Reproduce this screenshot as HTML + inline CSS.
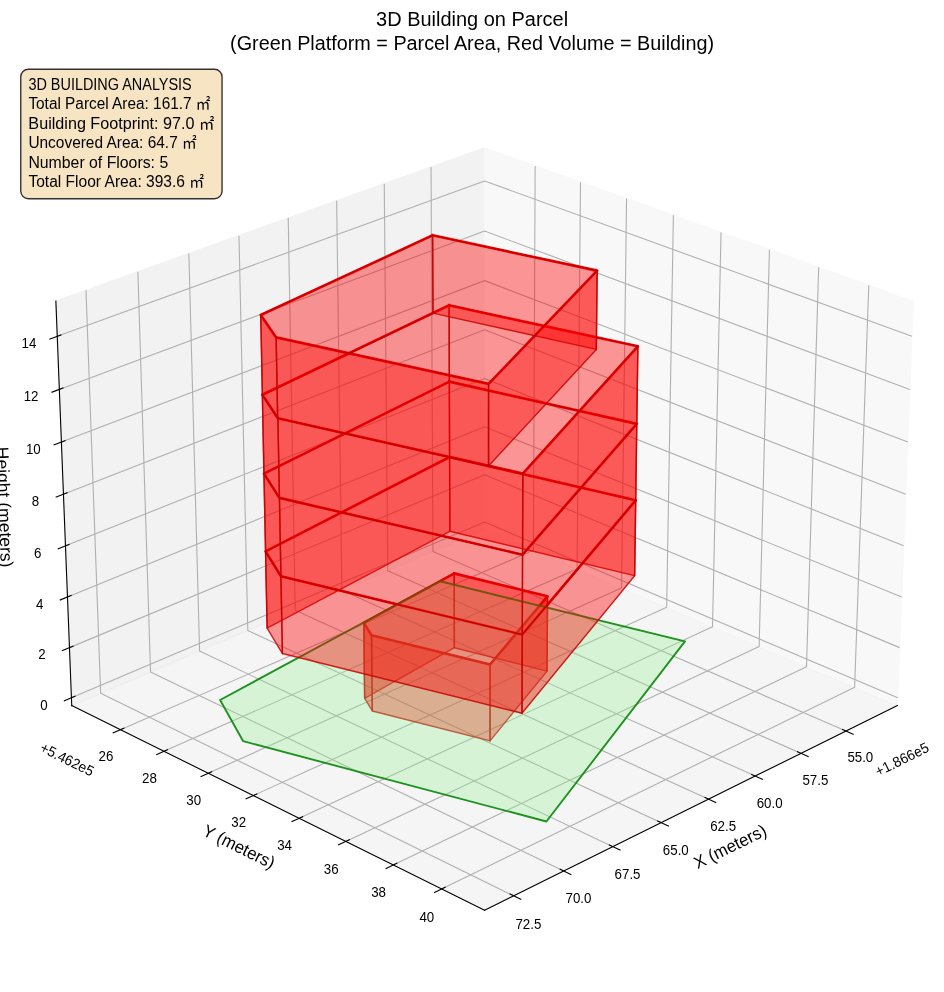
<!DOCTYPE html>
<html lang="en">
<head>
<meta charset="utf-8">
<title>3D Building on Parcel</title>
<style>
html, body { margin: 0; padding: 0; background: #ffffff; }
body { width: 944px; height: 992px; overflow: hidden; font-family: "Liberation Sans", "Noto Sans CJK JP", sans-serif; }
svg { display: block; }
svg text { fill: #000000; }
svg * { stroke-linejoin: round; stroke-linecap: butt; }
</style>
</head>
<body>
<svg width="944" height="992" viewBox="0 0 944 992">
<g transform="scale(1.388889)">
<g id="figure_1">
<g id="patch_1">
<path d="M 0 714.24  L 679.68 714.24  L 679.68 0  L 0 0  z " style="fill: #ffffff"/>
</g>
<g id="patch_2">
<path d="M 7.1208 706.9392  L 672.6888 706.9392  L 672.6888 41.3712  L 7.1208 41.3712  z " style="fill: #ffffff"/>
</g>
<g id="pane3d_1">
<g id="patch_3">
<path d="M 348.898962 381.206675  L 646.14014 508.027717  L 657.571852 216.799794  L 348.898962 106.465065  " style="fill: #f2f2f2; opacity: 0.5; stroke: #f2f2f2; stroke-linejoin: miter"/>
</g>
</g>
<g id="pane3d_2">
<g id="patch_4">
<path d="M 348.898962 381.206675  L 51.657784 508.027717  L 40.226072 216.799794  L 348.898962 106.465065  " style="fill: #e6e6e6; opacity: 0.5; stroke: #e6e6e6; stroke-linejoin: miter"/>
</g>
</g>
<g id="pane3d_3">
<g id="patch_5">
<path d="M 348.898962 381.206675  L 51.657784 508.027717  L 348.898962 655.378671  L 646.14014 508.027717  " style="fill: #ececec; opacity: 0.5; stroke: #ececec; stroke-linejoin: miter"/>
</g>
</g>
<g id="grid3d_1">
<g id="Line3DCollection_1">
<path d="M 609.13157 526.373924  L 311.707826 397.074661  L 310.367794 120.237982  " style="fill: none; stroke: #b0b0b0; stroke-width: 0.8"/>
<path d="M 576.736384 542.433145  L 279.195636 410.946325  L 276.66304 132.285703  " style="fill: none; stroke: #b0b0b0; stroke-width: 0.8"/>
<path d="M 543.770373 558.775339  L 246.151502 425.044948  L 242.386624 144.537764  " style="fill: none; stroke: #b0b0b0; stroke-width: 0.8"/>
<path d="M 510.218316 575.408053  L 212.562262 439.376147  L 207.523877 156.999408  " style="fill: none; stroke: #b0b0b0; stroke-width: 0.8"/>
<path d="M 476.064446 592.339103  L 178.414315 453.945724  L 172.059625 169.676059  " style="fill: none; stroke: #b0b0b0; stroke-width: 0.8"/>
<path d="M 441.292424 609.576589  L 143.693604 468.759677  L 135.978166 182.573331  " style="fill: none; stroke: #b0b0b0; stroke-width: 0.8"/>
<path d="M 405.885315 627.128906  L 108.385596 483.824206  L 99.263245 195.697032  " style="fill: none; stroke: #b0b0b0; stroke-width: 0.8"/>
<path d="M 369.825559 645.004758  L 72.475264 499.145723  L 61.898032 209.05318  " style="fill: none; stroke: #b0b0b0; stroke-width: 0.8"/>
</g>
</g>
<g id="grid3d_2">
<g id="Line3DCollection_2">
<path d="M 385.308312 119.47954  L 384.04272 396.201125  L 86.627674 525.363292  " style="fill: none; stroke: #b0b0b0; stroke-width: 0.8"/>
<path d="M 417.945004 131.145484  L 415.526089 409.633832  L 117.994708 540.912828  " style="fill: none; stroke: #b0b0b0; stroke-width: 0.8"/>
<path d="M 451.117845 143.003074  L 447.508398 423.279417  L 149.897055 556.727734  " style="fill: none; stroke: #b0b0b0; stroke-width: 0.8"/>
<path d="M 484.840154 155.05707  L 480.0016 437.14298  L 182.348537 572.814862  " style="fill: none; stroke: #b0b0b0; stroke-width: 0.8"/>
<path d="M 519.125699 167.312394  L 513.018037 451.229786  L 215.363454 589.181301  " style="fill: none; stroke: #b0b0b0; stroke-width: 0.8"/>
<path d="M 553.988708 179.774132  L 546.570449 465.545272  L 248.956611 605.834389  " style="fill: none; stroke: #b0b0b0; stroke-width: 0.8"/>
<path d="M 589.443895 192.447543  L 580.671993 480.095051  L 283.14333 622.781724  " style="fill: none; stroke: #b0b0b0; stroke-width: 0.8"/>
<path d="M 625.506477 205.338067  L 615.336264 494.884923  L 317.939486 640.031173  " style="fill: none; stroke: #b0b0b0; stroke-width: 0.8"/>
</g>
</g>
<g id="grid3d_3">
<g id="Line3DCollection_3">
<path d="M 51.437454 502.414714  L 348.898962 375.897509  L 646.36047 502.414714  " style="fill: none; stroke: #b0b0b0; stroke-width: 0.8"/>
<path d="M 50.019571 466.293506  L 348.898962 341.74469  L 647.778354 466.293506  " style="fill: none; stroke: #b0b0b0; stroke-width: 0.8"/>
<path d="M 48.588105 429.826297  L 348.898962 307.287733  L 649.209819 429.826297  " style="fill: none; stroke: #b0b0b0; stroke-width: 0.8"/>
<path d="M 47.142862 393.008092  L 348.898962 272.522559  L 650.655062 393.008092  " style="fill: none; stroke: #b0b0b0; stroke-width: 0.8"/>
<path d="M 45.683642 355.833799  L 348.898962 237.445013  L 652.114283 355.833799  " style="fill: none; stroke: #b0b0b0; stroke-width: 0.8"/>
<path d="M 44.210239 318.298227  L 348.898962 202.050866  L 653.587685 318.298227  " style="fill: none; stroke: #b0b0b0; stroke-width: 0.8"/>
<path d="M 42.722448 280.396083  L 348.898962 166.335812  L 655.075476 280.396083  " style="fill: none; stroke: #b0b0b0; stroke-width: 0.8"/>
<path d="M 41.220056 242.121972  L 348.898962 130.295467  L 656.577869 242.121972  " style="fill: none; stroke: #b0b0b0; stroke-width: 0.8"/>
</g>
</g>
<g id="axis3d_1">
<g id="line2d_1">
<path d="M 646.14014 508.027717  L 348.898962 655.378671  " style="fill: none; stroke: #000000; stroke-width: 0.8; stroke-linecap: square"/>
</g>
<g id="xtick_1">
<g id="line2d_2">
<path d="M 606.573764 525.261967  L 614.256479 528.60188  " style="fill: none; stroke: #000000; stroke-width: 0.8; stroke-linecap: square"/>
</g>
<g id="text_1">
<text style="font-size: 10.500px; font-family: 'Liberation Sans', 'Noto Sans CJK JP', sans-serif; text-anchor: middle" x="619.434899" y="548.840" textLength="18.65" lengthAdjust="spacingAndGlyphs">55.0</text>
</g>
</g>
<g id="xtick_2">
<g id="line2d_3">
<path d="M 574.176014 541.301687  L 581.866511 544.700209  " style="fill: none; stroke: #000000; stroke-width: 0.8; stroke-linecap: square"/>
</g>
<g id="text_2">
<text style="font-size: 10.500px; font-family: 'Liberation Sans', 'Noto Sans CJK JP', sans-serif; text-anchor: middle" x="587.088318" y="565.042" textLength="18.65" lengthAdjust="spacingAndGlyphs">57.5</text>
</g>
</g>
<g id="xtick_3">
<g id="line2d_4">
<path d="M 541.207745 557.623862  L 548.905108 561.082552  " style="fill: none; stroke: #000000; stroke-width: 0.8; stroke-linecap: square"/>
</g>
<g id="text_3">
<text style="font-size: 10.500px; font-family: 'Liberation Sans', 'Noto Sans CJK JP', sans-serif; text-anchor: middle" x="554.171032" y="581.530" textLength="18.65" lengthAdjust="spacingAndGlyphs">60.0</text>
</g>
</g>
<g id="xtick_4">
<g id="line2d_5">
<path d="M 507.653754 574.236022  L 515.357011 577.75649  " style="fill: none; stroke: #000000; stroke-width: 0.8; stroke-linecap: square"/>
</g>
<g id="text_4">
<text style="font-size: 10.500px; font-family: 'Liberation Sans', 'Noto Sans CJK JP', sans-serif; text-anchor: middle" x="520.667803" y="598.312" textLength="18.65" lengthAdjust="spacingAndGlyphs">62.5</text>
</g>
</g>
<g id="xtick_5">
<g id="line2d_6">
<path d="M 473.498292 591.145962  L 481.206417 594.729879  " style="fill: none; stroke: #000000; stroke-width: 0.8; stroke-linecap: square"/>
</g>
<g id="text_5">
<text style="font-size: 10.500px; font-family: 'Liberation Sans', 'Noto Sans CJK JP', sans-serif; text-anchor: middle" x="486.562847" y="615.395" textLength="18.65" lengthAdjust="spacingAndGlyphs">65.0</text>
</g>
</g>
<g id="xtick_6">
<g id="line2d_7">
<path d="M 438.72504 608.361762  L 446.436947 612.010859  " style="fill: none; stroke: #000000; stroke-width: 0.8; stroke-linecap: square"/>
</g>
<g id="text_6">
<text style="font-size: 10.500px; font-family: 'Liberation Sans', 'Noto Sans CJK JP', sans-serif; text-anchor: middle" x="451.839804" y="632.787" textLength="18.65" lengthAdjust="spacingAndGlyphs">67.5</text>
</g>
</g>
<g id="xtick_7">
<g id="line2d_8">
<path d="M 403.317084 625.891797  L 411.031625 629.607868  " style="fill: none; stroke: #000000; stroke-width: 0.8; stroke-linecap: square"/>
</g>
<g id="text_7">
<text style="font-size: 10.500px; font-family: 'Liberation Sans', 'Noto Sans CJK JP', sans-serif; text-anchor: middle" x="416.48172" y="650.498" textLength="18.65" lengthAdjust="spacingAndGlyphs">70.0</text>
</g>
</g>
<g id="xtick_8">
<g id="line2d_9">
<path d="M 367.256885 643.744748  L 374.972848 647.529654  " style="fill: none; stroke: #000000; stroke-width: 0.8; stroke-linecap: square"/>
</g>
<g id="text_8">
<text style="font-size: 10.500px; font-family: 'Liberation Sans', 'Noto Sans CJK JP', sans-serif; text-anchor: middle" x="380.471011" y="668.536" textLength="18.65" lengthAdjust="spacingAndGlyphs">72.5</text>
</g>
</g>
<g id="text_9">
<text style="font-size: 10.500px; font-family: 'Liberation Sans', 'Noto Sans CJK JP', sans-serif; text-anchor: end" x="669.707871" y="540.705668" transform="rotate(-26.36893 669.707871 540.705668)" textLength="41.62" lengthAdjust="spacingAndGlyphs">+1.866e5</text>
</g>
<g id="text_10">
<text style="font-size: 12.600px; font-family: 'Liberation Sans', 'Noto Sans CJK JP', sans-serif; text-anchor: middle" x="527.583845" y="613.400302" transform="rotate(-26.36893 527.583845 613.400302)" textLength="56.52" lengthAdjust="spacingAndGlyphs">X (meters)</text>
</g>
</g>
<g id="axis3d_2">
<g id="line2d_10">
<path d="M 51.657784 508.027717  L 348.898962 655.378671  " style="fill: none; stroke: #000000; stroke-width: 0.8; stroke-linecap: square"/>
</g>
<g id="xtick_9">
<g id="line2d_11">
<path d="M 89.185307 524.252557  L 81.503117 527.588798  " style="fill: none; stroke: #000000; stroke-width: 0.8; stroke-linecap: square"/>
</g>
<g id="text_11">
<text style="font-size: 10.500px; font-family: 'Liberation Sans', 'Noto Sans CJK JP', sans-serif; text-anchor: middle" x="76.327428" y="547.820" textLength="10.66" lengthAdjust="spacingAndGlyphs">26</text>
</g>
</g>
<g id="xtick_10">
<g id="line2d_12">
<path d="M 120.55485 539.783223  L 112.865045 543.176176  " style="fill: none; stroke: #000000; stroke-width: 0.8; stroke-linecap: square"/>
</g>
<g id="text_12">
<text style="font-size: 10.500px; font-family: 'Liberation Sans', 'Noto Sans CJK JP', sans-serif; text-anchor: middle" x="107.647345" y="563.508" textLength="10.66" lengthAdjust="spacingAndGlyphs">28</text>
</g>
</g>
<g id="xtick_11">
<g id="line2d_13">
<path d="M 152.45942 555.578775  L 144.762859 559.029897  " style="fill: none; stroke: #000000; stroke-width: 0.8; stroke-linecap: square"/>
</g>
<g id="text_13">
<text style="font-size: 10.500px; font-family: 'Liberation Sans', 'Noto Sans CJK JP', sans-serif; text-anchor: middle" x="139.502461" y="579.464" textLength="10.66" lengthAdjust="spacingAndGlyphs">30</text>
</g>
</g>
<g id="xtick_12">
<g id="line2d_14">
<path d="M 184.912821 571.646047  L 177.210411 575.156847  " style="fill: none; stroke: #000000; stroke-width: 0.8; stroke-linecap: square"/>
</g>
<g id="text_14">
<text style="font-size: 10.500px; font-family: 'Liberation Sans', 'Noto Sans CJK JP', sans-serif; text-anchor: middle" x="171.906612" y="595.695" textLength="10.66" lengthAdjust="spacingAndGlyphs">32</text>
</g>
</g>
<g id="xtick_13">
<g id="line2d_15">
<path d="M 217.92934 587.992111  L 210.222037 591.564151  " style="fill: none; stroke: #000000; stroke-width: 0.8; stroke-linecap: square"/>
</g>
<g id="text_15">
<text style="font-size: 10.500px; font-family: 'Liberation Sans', 'Noto Sans CJK JP', sans-serif; text-anchor: middle" x="204.874116" y="612.208" textLength="10.66" lengthAdjust="spacingAndGlyphs">34</text>
</g>
</g>
<g id="xtick_14">
<g id="line2d_16">
<path d="M 251.523761 604.624286  L 243.812575 608.259183  " style="fill: none; stroke: #000000; stroke-width: 0.8; stroke-linecap: square"/>
</g>
<g id="text_16">
<text style="font-size: 10.500px; font-family: 'Liberation Sans', 'Noto Sans CJK JP', sans-serif; text-anchor: middle" x="238.419794" y="629.011" textLength="10.66" lengthAdjust="spacingAndGlyphs">36</text>
</g>
</g>
<g id="xtick_15">
<g id="line2d_17">
<path d="M 285.71139 621.550152  L 277.997387 625.249579  " style="fill: none; stroke: #000000; stroke-width: 0.8; stroke-linecap: square"/>
</g>
<g id="text_17">
<text style="font-size: 10.500px; font-family: 'Liberation Sans', 'Noto Sans CJK JP', sans-serif; text-anchor: middle" x="272.558988" y="646.111" textLength="10.66" lengthAdjust="spacingAndGlyphs">38</text>
</g>
</g>
<g id="xtick_16">
<g id="line2d_18">
<path d="M 320.50808 638.777556  L 312.792385 642.543246  " style="fill: none; stroke: #000000; stroke-width: 0.8; stroke-linecap: square"/>
</g>
<g id="text_18">
<text style="font-size: 10.500px; font-family: 'Liberation Sans', 'Noto Sans CJK JP', sans-serif; text-anchor: middle" x="307.307591" y="663.517" textLength="10.66" lengthAdjust="spacingAndGlyphs">40</text>
</g>
</g>
<g id="text_19">
<text style="font-size: 10.500px; font-family: 'Liberation Sans', 'Noto Sans CJK JP', sans-serif; text-anchor: start" x="28.090054" y="540.705668" transform="rotate(-333.63107 28.090054 540.705668)" textLength="41.62" lengthAdjust="spacingAndGlyphs">+5.462e5</text>
</g>
<g id="text_20">
<text style="font-size: 12.600px; font-family: 'Liberation Sans', 'Noto Sans CJK JP', sans-serif; text-anchor: middle" x="170.214079" y="613.400302" transform="rotate(-333.63107 170.214079 613.400302)" textLength="56.02" lengthAdjust="spacingAndGlyphs">Y (meters)</text>
</g>
</g>
<g id="axis3d_3">
<g id="line2d_19">
<path d="M 51.657784 508.027717  L 40.226072 216.799794  " style="fill: none; stroke: #000000; stroke-width: 0.8; stroke-linecap: square"/>
</g>
<g id="xtick_17">
<g id="line2d_20">
<path d="M 53.993936 501.327384  L 46.315283 504.593291  " style="fill: none; stroke: #000000; stroke-width: 0.8; stroke-linecap: square"/>
</g>
<g id="text_21">
<text style="font-size: 10.500px; font-family: 'Liberation Sans', 'Noto Sans CJK JP', sans-serif; text-anchor: middle" x="31.701078" y="510.874" textLength="5.33" lengthAdjust="spacingAndGlyphs">0</text>
</g>
</g>
<g id="xtick_18">
<g id="line2d_21">
<path d="M 52.589085 465.22274  L 44.871245 468.438913  " style="fill: none; stroke: #000000; stroke-width: 0.8; stroke-linecap: square"/>
</g>
<g id="text_22">
<text style="font-size: 10.500px; font-family: 'Liberation Sans', 'Noto Sans CJK JP', sans-serif; text-anchor: middle" x="30.189119" y="474.753" textLength="5.33" lengthAdjust="spacingAndGlyphs">2</text>
</g>
</g>
<g id="xtick_19">
<g id="line2d_22">
<path d="M 51.170784 428.772463  L 43.413357 431.937797  " style="fill: none; stroke: #000000; stroke-width: 0.8; stroke-linecap: square"/>
</g>
<g id="text_23">
<text style="font-size: 10.500px; font-family: 'Liberation Sans', 'Noto Sans CJK JP', sans-serif; text-anchor: middle" x="28.662677" y="438.286" textLength="5.33" lengthAdjust="spacingAndGlyphs">4</text>
</g>
</g>
<g id="xtick_20">
<g id="line2d_23">
<path d="M 49.738841 391.971567  L 41.941421 395.08493  " style="fill: none; stroke: #000000; stroke-width: 0.8; stroke-linecap: square"/>
</g>
<g id="text_24">
<text style="font-size: 10.500px; font-family: 'Liberation Sans', 'Noto Sans CJK JP', sans-serif; text-anchor: middle" x="27.121543" y="401.467" textLength="5.33" lengthAdjust="spacingAndGlyphs">6</text>
</g>
</g>
<g id="xtick_21">
<g id="line2d_24">
<path d="M 48.293058 354.814967  L 40.455231 357.875204  " style="fill: none; stroke: #000000; stroke-width: 0.8; stroke-linecap: square"/>
</g>
<g id="text_25">
<text style="font-size: 10.500px; font-family: 'Liberation Sans', 'Noto Sans CJK JP', sans-serif; text-anchor: middle" x="25.565504" y="364.293" textLength="5.33" lengthAdjust="spacingAndGlyphs">8</text>
</g>
</g>
<g id="xtick_22">
<g id="line2d_25">
<path d="M 46.833232 317.297481  L 38.954579 320.30341  " style="fill: none; stroke: #000000; stroke-width: 0.8; stroke-linecap: square"/>
</g>
<g id="text_26">
<text style="font-size: 10.500px; font-family: 'Liberation Sans', 'Noto Sans CJK JP', sans-serif; text-anchor: middle" x="23.994343" y="326.758" textLength="10.66" lengthAdjust="spacingAndGlyphs">10</text>
</g>
</g>
<g id="xtick_23">
<g id="line2d_26">
<path d="M 45.359158 279.413827  L 37.439255 282.364237  " style="fill: none; stroke: #000000; stroke-width: 0.8; stroke-linecap: square"/>
</g>
<g id="text_27">
<text style="font-size: 10.500px; font-family: 'Liberation Sans', 'Noto Sans CJK JP', sans-serif; text-anchor: middle" x="22.407837" y="288.855" textLength="10.66" lengthAdjust="spacingAndGlyphs">12</text>
</g>
</g>
<g id="xtick_24">
<g id="line2d_27">
<path d="M 43.870627 241.158616  L 35.90904 244.052271  " style="fill: none; stroke: #000000; stroke-width: 0.8; stroke-linecap: square"/>
</g>
<g id="text_28">
<text style="font-size: 10.500px; font-family: 'Liberation Sans', 'Noto Sans CJK JP', sans-serif; text-anchor: middle" x="20.805762" y="250.581" textLength="10.66" lengthAdjust="spacingAndGlyphs">14</text>
</g>
</g>
<g id="text_29">
<text style="font-size: 12.600px; font-family: 'Liberation Sans', 'Noto Sans CJK JP', sans-serif; text-anchor: middle" x="-1.037694" y="365.294703" transform="rotate(-272.247905 -1.037694 365.294703)" textLength="86.90" lengthAdjust="spacingAndGlyphs">Height (meters)</text>
</g>
</g>
<g id="axes_1">
<g id="line2d_28">
<path d="M 326.996358 412.871164  L 261.923852 448.474384  L 267.487559 457.377175  L 352.857065 478.451298  L 394.214542 429.318523  L 326.996358 412.871164  " style="fill: none; stroke: #e80000; stroke-width: 1.9; stroke-linecap: square"/>
</g>
<g id="line2d_29">
<path d="M 323.701924 329.047252  L 191.199371 397.012582  L 202.271795 414.906157  L 376.028593 456.887491  L 457.712632 360.229388  L 323.701924 329.047252  " style="fill: none; stroke: #e80000; stroke-width: 1.9; stroke-linecap: square"/>
</g>
<g id="line2d_30">
<path d="M 323.52563 274.814133  L 190.04999 341.012974  L 201.191845 358.447857  L 376.233303 399.363467  L 458.488525 305.18105  L 323.52563 274.814133  " style="fill: none; stroke: #e80000; stroke-width: 1.9; stroke-linecap: square"/>
</g>
<g id="line2d_31">
<path d="M 323.346851 219.81677  L 188.883731 284.191075  L 200.09587 301.151724  L 376.441126 340.964732  L 459.275563 249.342033  L 323.346851 219.81677  " style="fill: none; stroke: #e80000; stroke-width: 1.9; stroke-linecap: square"/>
</g>
<g id="line2d_32">
<path d="M 311.47177 169.459394  L 187.734814 226.771482  L 198.816655 242.931023  L 351.761015 276.407476  L 429.943084 194.878277  L 311.47177 169.459394  " style="fill: none; stroke: #e80000; stroke-width: 1.9; stroke-linecap: square"/>
</g>
<g id="Poly3DCollection_1">
<path d="M 393.895492 483.186619  L 327.14912 466.348852  L 326.996358 412.871164  L 394.214542 429.318523  z " style="fill: #ff0000; fill-opacity: 0.4; stroke: #c70000; stroke-opacity: 0.85"/>
<path d="M 327.14912 466.348852  L 262.542896 502.794357  L 261.923852 448.474384  L 326.996358 412.871164  z " style="fill: #ff0000; fill-opacity: 0.4; stroke: #c70000; stroke-opacity: 0.85"/>
<path d="M 262.542896 502.794357  L 268.069912 511.906128  L 267.487559 457.377175  L 261.923852 448.474384  z " style="fill: #ff0000; fill-opacity: 0.4; stroke: #c70000; stroke-opacity: 0.85"/>
<path d="M 352.828418 533.472319  L 393.895492 483.186619  L 394.214542 429.318523  L 352.857065 478.451298  z " style="fill: #ff0000; fill-opacity: 0.4; stroke: #c70000; stroke-opacity: 0.85"/>
<path d="M 268.069912 511.906128  L 352.828418 533.472319  L 352.857065 478.451298  L 267.487559 457.377175  z " style="fill: #ff0000; fill-opacity: 0.4; stroke: #c70000; stroke-opacity: 0.85"/>
</g>
<g id="Poly3DCollection_2">
<g>
<path d="M 158.465775 -210.266229  L 175.084231 -180.569825  L 393.405127 -122.754177  L 493.167438 -252.402672  L 316.785881 -295.7563  z" transform="translate(0 714.24)" style="fill: #90ee90; fill-opacity: 0.3; stroke: #088708; stroke-opacity: 0.9; stroke-width: 1.35"/>
</g>
</g>
<g id="Poly3DCollection_3">
<path d="M 456.947648 414.503721  L 323.875785 382.531947  L 323.701924 329.047252  L 457.712632 360.229388  z " style="fill: #ff0000; fill-opacity: 0.4; stroke: #c70000; stroke-opacity: 0.85"/>
<path d="M 323.875785 382.531947  L 192.332239 452.207621  L 191.199371 397.012582  L 323.701924 329.047252  z " style="fill: #ff0000; fill-opacity: 0.4; stroke: #c70000; stroke-opacity: 0.85"/>
<path d="M 192.332239 452.207621  L 203.336067 470.544869  L 202.271795 414.906157  L 191.199371 397.012582  z " style="fill: #ff0000; fill-opacity: 0.4; stroke: #c70000; stroke-opacity: 0.85"/>
<path d="M 375.826927 513.556311  L 456.947648 414.503721  L 457.712632 360.229388  L 376.028593 456.887491  z " style="fill: #ff0000; fill-opacity: 0.4; stroke: #c70000; stroke-opacity: 0.85"/>
<path d="M 203.336067 470.544869  L 375.826927 513.556311  L 376.028593 456.887491  L 202.271795 414.906157  z " style="fill: #ff0000; fill-opacity: 0.4; stroke: #c70000; stroke-opacity: 0.85"/>
</g>
<g id="Poly3DCollection_4">
<path d="M 457.712632 360.229388  L 323.701924 329.047252  L 323.52563 274.814133  L 458.488525 305.18105  z " style="fill: #ff0000; fill-opacity: 0.4; stroke: #c70000; stroke-opacity: 0.85"/>
<path d="M 323.701924 329.047252  L 191.199371 397.012582  L 190.04999 341.012974  L 323.52563 274.814133  z " style="fill: #ff0000; fill-opacity: 0.4; stroke: #c70000; stroke-opacity: 0.85"/>
<path d="M 191.199371 397.012582  L 202.271795 414.906157  L 201.191845 358.447857  L 190.04999 341.012974  z " style="fill: #ff0000; fill-opacity: 0.4; stroke: #c70000; stroke-opacity: 0.85"/>
<path d="M 376.028593 456.887491  L 457.712632 360.229388  L 458.488525 305.18105  L 376.233303 399.363467  z " style="fill: #ff0000; fill-opacity: 0.4; stroke: #c70000; stroke-opacity: 0.85"/>
<path d="M 202.271795 414.906157  L 376.028593 456.887491  L 376.233303 399.363467  L 201.191845 358.447857  z " style="fill: #ff0000; fill-opacity: 0.4; stroke: #c70000; stroke-opacity: 0.85"/>
</g>
<g id="Poly3DCollection_5">
<path d="M 458.488525 305.18105  L 323.52563 274.814133  L 323.346851 219.81677  L 459.275563 249.342033  z " style="fill: #ff0000; fill-opacity: 0.4; stroke: #c70000; stroke-opacity: 0.85"/>
<path d="M 323.52563 274.814133  L 190.04999 341.012974  L 188.883731 284.191075  L 323.346851 219.81677  z " style="fill: #ff0000; fill-opacity: 0.4; stroke: #c70000; stroke-opacity: 0.85"/>
<path d="M 190.04999 341.012974  L 201.191845 358.447857  L 200.09587 301.151724  L 188.883731 284.191075  z " style="fill: #ff0000; fill-opacity: 0.4; stroke: #c70000; stroke-opacity: 0.85"/>
<path d="M 376.233303 399.363467  L 458.488525 305.18105  L 459.275563 249.342033  L 376.441126 340.964732  z " style="fill: #ff0000; fill-opacity: 0.4; stroke: #c70000; stroke-opacity: 0.85"/>
<path d="M 201.191845 358.447857  L 376.233303 399.363467  L 376.441126 340.964732  L 200.09587 301.151724  z " style="fill: #ff0000; fill-opacity: 0.4; stroke: #c70000; stroke-opacity: 0.85"/>
</g>
<g id="Poly3DCollection_6">
<path d="M 429.360212 251.591001  L 311.73644 225.402261  L 311.47177 169.459394  L 429.943084 194.878277  z " style="fill: #ff0000; fill-opacity: 0.4; stroke: #c70000; stroke-opacity: 0.85"/>
<path d="M 311.73644 225.402261  L 188.918256 284.441166  L 187.734814 226.771482  L 311.47177 169.459394  z " style="fill: #ff0000; fill-opacity: 0.4; stroke: #c70000; stroke-opacity: 0.85"/>
<path d="M 188.918256 284.441166  L 199.930206 301.08176  L 198.816655 242.931023  L 187.734814 226.771482  z " style="fill: #ff0000; fill-opacity: 0.4; stroke: #c70000; stroke-opacity: 0.85"/>
<path d="M 351.739326 335.546613  L 429.360212 251.591001  L 429.943084 194.878277  L 351.761015 276.407476  z " style="fill: #ff0000; fill-opacity: 0.4; stroke: #c70000; stroke-opacity: 0.85"/>
<path d="M 199.930206 301.08176  L 351.739326 335.546613  L 351.761015 276.407476  L 198.816655 242.931023  z " style="fill: #ff0000; fill-opacity: 0.4; stroke: #c70000; stroke-opacity: 0.85"/>
</g>
</g>
</g>
</g>
<g id="info">
<rect x="20.74" y="69.25" width="201.33" height="129.50" rx="7.64" ry="7.64" style="fill: #f5deb3; stroke: #000000; stroke-width: 1.389; opacity: 0.8"/>
<text x="28.38" y="89.70" style="font-size: 16.042px; font-family: 'Liberation Sans', 'Noto Sans CJK JP', sans-serif; text-anchor: start" textLength="163.37" lengthAdjust="spacingAndGlyphs">3D BUILDING ANALYSIS</text>
<text x="28.38" y="109.25" style="font-size: 16.042px; font-family: 'Liberation Sans', 'Noto Sans CJK JP', sans-serif; text-anchor: start" textLength="182.10" lengthAdjust="spacingAndGlyphs">Total Parcel Area: 161.7 <tspan style="font-size: 15.278px">㎡</tspan></text>
<text x="28.38" y="128.80" style="font-size: 16.042px; font-family: 'Liberation Sans', 'Noto Sans CJK JP', sans-serif; text-anchor: start" textLength="186.05" lengthAdjust="spacingAndGlyphs">Building Footprint: 97.0 <tspan style="font-size: 15.278px">㎡</tspan></text>
<text x="28.38" y="148.35" style="font-size: 16.042px; font-family: 'Liberation Sans', 'Noto Sans CJK JP', sans-serif; text-anchor: start" textLength="168.36" lengthAdjust="spacingAndGlyphs">Uncovered Area: 64.7 <tspan style="font-size: 15.278px">㎡</tspan></text>
<text x="28.38" y="167.90" style="font-size: 16.042px; font-family: 'Liberation Sans', 'Noto Sans CJK JP', sans-serif; text-anchor: start" textLength="139.82" lengthAdjust="spacingAndGlyphs">Number of Floors: 5</text>
<text x="28.38" y="187.45" style="font-size: 16.042px; font-family: 'Liberation Sans', 'Noto Sans CJK JP', sans-serif; text-anchor: start" textLength="175.79" lengthAdjust="spacingAndGlyphs">Total Floor Area: 393.6 <tspan style="font-size: 15.278px">㎡</tspan></text>
</g>
<g id="title">
<text x="472.09" y="25.80" style="font-size: 20.417px; font-family: 'Liberation Sans', 'Noto Sans CJK JP', sans-serif; text-anchor: middle" textLength="191.96" lengthAdjust="spacingAndGlyphs">3D Building on Parcel</text>
<text x="472.09" y="50.00" style="font-size: 20.417px; font-family: 'Liberation Sans', 'Noto Sans CJK JP', sans-serif; text-anchor: middle" textLength="484.01" lengthAdjust="spacingAndGlyphs">(Green Platform = Parcel Area, Red Volume = Building)</text>
</g>
</svg>
</body>
</html>
